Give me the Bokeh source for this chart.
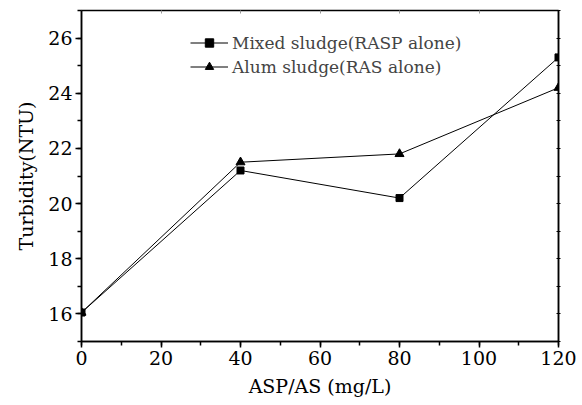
from bokeh.plotting import figure
from bokeh.models import LinearAxis, Range1d, Legend, LegendItem, FixedTicker
from bokeh.embed import file_html
from bokeh.resources import INLINE

dose = [0, 40, 80, 120]
mixed = [16.05, 21.2, 20.2, 25.3]
alum = [16.05, 21.5, 21.8, 24.2]
x_ticks = [0, 20, 40, 60, 80, 100, 120]
y_ticks = [16, 18, 20, 22, 24, 26]

FONT = "DejaVu Serif"

p = figure(width=582, height=405, output_backend="svg", toolbar_location=None,
           x_range=Range1d(0, 120), y_range=Range1d(15, 27),
           min_border_left=81, min_border_right=24, min_border_top=10, min_border_bottom=64)
p.grid.visible = False
p.outline_line_color = "black"
p.outline_line_width = 1.5
p.background_fill_color = "white"
p.border_fill_color = "white"

for ax in [p.xaxis[0], p.yaxis[0]]:
    ax.axis_line_width = 1.5
    ax.major_tick_line_width = 1.5
    ax.minor_tick_line_width = 1.5
    ax.major_tick_out = 6
    ax.major_tick_in = 0
    ax.minor_tick_out = 4
    ax.minor_tick_in = 0
    ax.major_label_text_font = FONT
    ax.major_label_text_font_size = "19px"
    ax.major_label_text_color = "black"
    ax.axis_label_text_font = FONT
    ax.axis_label_text_font_size = "19px"
    ax.axis_label_text_font_style = "normal"
    ax.axis_label_text_color = "black"

p.xaxis.ticker = FixedTicker(ticks=x_ticks, minor_ticks=list(range(0, 121, 10)))
p.yaxis.ticker = FixedTicker(ticks=y_ticks, minor_ticks=list(range(15, 28)))
p.xaxis.axis_label = "ASP/AS (mg/L)"
p.yaxis.axis_label = "Turbidity(NTU)"
p.xaxis.major_label_standoff = 3
p.yaxis.major_label_standoff = 3
p.xaxis.axis_label_standoff = 7
p.yaxis.axis_label_standoff = 8

top_ticks = x_ticks
right_ticks = list(range(15, 28))
top = LinearAxis(ticker=FixedTicker(ticks=top_ticks, minor_ticks=[]),
                 major_label_overrides={t: "" for t in top_ticks},
                 major_tick_in=3, major_tick_out=0, major_tick_line_color="#999999",
                 minor_tick_line_color=None, axis_line_color=None)
right = LinearAxis(ticker=FixedTicker(ticks=right_ticks, minor_ticks=[]),
                   major_label_overrides={t: "" for t in right_ticks},
                   major_tick_in=2, major_tick_out=2, major_tick_line_color="black",
                   minor_tick_line_color=None, axis_line_width=1.5)
p.add_layout(top, "above")
p.add_layout(right, "right")

l1 = p.line(dose, mixed, line_color="black", line_width=1)
s1 = p.scatter(dose, mixed, marker="square", size=7, fill_color="black", line_color="black")
l2 = p.line(dose, alum, line_color="black", line_width=1)
s2 = p.scatter(dose, alum, marker="triangle", size=9, fill_color="black", line_color="black")

legend = Legend(items=[LegendItem(label="Mixed sludge(RASP alone)", renderers=[l1, s1]),
                       LegendItem(label="Alum sludge(RAS alone)", renderers=[l2, s2])],
                location=(109, 264), background_fill_alpha=0, border_line_color=None,
                label_text_font=FONT, label_text_font_size="17px", glyph_width=38,
                label_standoff=4, spacing=3, padding=4, label_height=21, glyph_height=21)
p.add_layout(legend)

open("out.html", "w").write(file_html(p, INLINE))
